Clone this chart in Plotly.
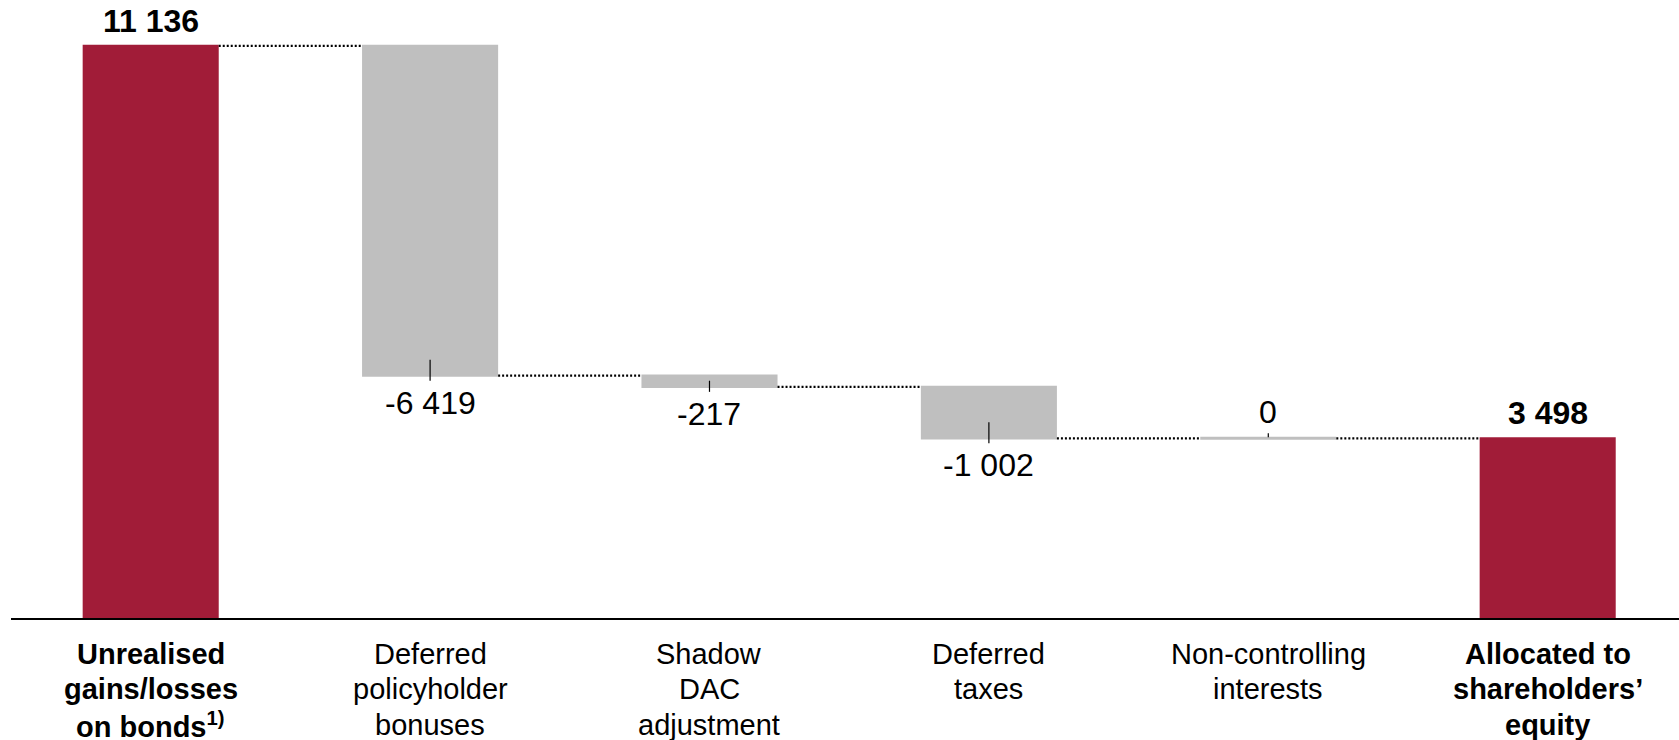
import plotly.graph_objects as go

# Waterfall data
categories = [
    "Unrealised gains/losses on bonds",
    "Deferred policyholder bonuses",
    "Shadow DAC adjustment",
    "Deferred taxes",
    "Non-controlling interests",
    "Allocated to shareholders' equity",
]
tick_lines = [
    ["<b>Unrealised</b>", "<b>gains/losses</b>", "<b>on bonds<sup>1)</sup></b>"],
    ["Deferred", "policyholder", "bonuses"],
    ["Shadow", "DAC", "adjustment"],
    ["Deferred", "taxes"],
    ["Non-controlling", "interests"],
    ["<b>Allocated to</b>", "<b>shareholders’</b>", "<b>equity</b>"],
]
values = [11136, -6419, -217, -1002, 0, 3498]
measures = ["absolute", "relative", "relative", "relative", "relative", "total"]

RED = "#A11C38"
GRAY = "#BFBFBF"
FONT = "Liberation Sans, Arial, sans-serif"
FS = 29      # category labels
VS = 32      # value labels

W, H = 1679, 740
M_L, M_R, M_T, M_B = 11, 0, 0, 122
Y_MAX = 12031
GAP = 0.513
px_per_unit = (H - M_T - M_B) / Y_MAX


def fmt(v):
    return f"{v:,}".replace(",", " ")


fig = go.Figure(
    go.Waterfall(
        x=categories,
        y=values,
        measure=measures,
        totals=dict(marker=dict(color=RED, line=dict(width=0))),
        increasing=dict(marker=dict(color=GRAY, line=dict(width=0))),
        decreasing=dict(marker=dict(color=GRAY, line=dict(width=0))),
        connector=dict(mode="between", line=dict(color="black", width=2.2, dash="2px,2px")),
        hoverinfo="skip",
        textinfo="none",
    )
)

# Value labels, small leader ticks and flat bars for zero changes
annotations = []
shapes = []
level = 0
for i, (cat, val, meas) in enumerate(zip(categories, values, measures)):
    if meas == "absolute":
        level = val
        top = level
    elif meas == "total":
        top = level
    else:
        level = level + val
    if meas in ("absolute", "total"):
        annotations.append(dict(
            x=cat, y=top, xref="x", yref="y", text=f"<b>{fmt(top)}</b>",
            showarrow=False, yanchor="bottom", yshift=5,
            font=dict(family=FONT, size=VS, color="black"),
        ))
    elif val < 0:
        bar_px = -val * px_per_unit
        annotations.append(dict(
            x=cat, y=level, xref="x", yref="y", text=fmt(val),
            showarrow=False, yanchor="top", yshift=-7,
            font=dict(family=FONT, size=VS, color="black"),
        ))
        shapes.append(dict(
            type="line", xref="x", yref="y", x0=cat, x1=cat,
            ysizemode="pixel", yanchor=level, y0=-5, y1=min(16, 0.55 * bar_px),
            line=dict(color="black", width=1.2),
        ))
    else:
        # zero change: flat gray bar at the running level
        half = (1 - GAP) / 2
        shapes.append(dict(
            type="line", xref="x", yref="y", x0=i - half, x1=i + half,
            y0=level, y1=level, line=dict(color=GRAY, width=3), layer="below",
        ))
        annotations.append(dict(
            x=cat, y=level, xref="x", yref="y", text=fmt(val),
            showarrow=False, yanchor="bottom", yshift=6,
            font=dict(family=FONT, size=VS, color="black"),
        ))
        shapes.append(dict(
            type="line", xref="x", yref="y", x0=cat, x1=cat,
            ysizemode="pixel", yanchor=level, y0=1, y1=5,
            line=dict(color="black", width=1.2),
        ))

# Category labels below the axis, one annotation per line
LINE_STEP = 35.4
for cat, lines in zip(categories, tick_lines):
    for k, line in enumerate(lines):
        annotations.append(dict(
            x=cat, y=0, xref="x", yref="y", text=line,
            showarrow=False, yanchor="middle", xanchor="center",
            yshift=-(36 + k * LINE_STEP),
            font=dict(family=FONT, size=FS, color="black"),
        ))

fig.update_layout(
    width=W, height=H,
    margin=dict(l=M_L, r=M_R, t=M_T, b=M_B, pad=0),
    paper_bgcolor="white", plot_bgcolor="white",
    showlegend=False,
    waterfallgap=GAP,
    annotations=annotations,
    shapes=shapes,
    font=dict(family=FONT, size=FS, color="black"),
    xaxis=dict(
        range=[-0.5, 5.47],
        showline=True, linecolor="black", linewidth=2,
        ticks="", showticklabels=False, showgrid=False, zeroline=False,
    ),
    yaxis=dict(
        range=[0, Y_MAX], visible=False, showgrid=False, zeroline=False,
    ),
)

fig.write_html("out.html")
